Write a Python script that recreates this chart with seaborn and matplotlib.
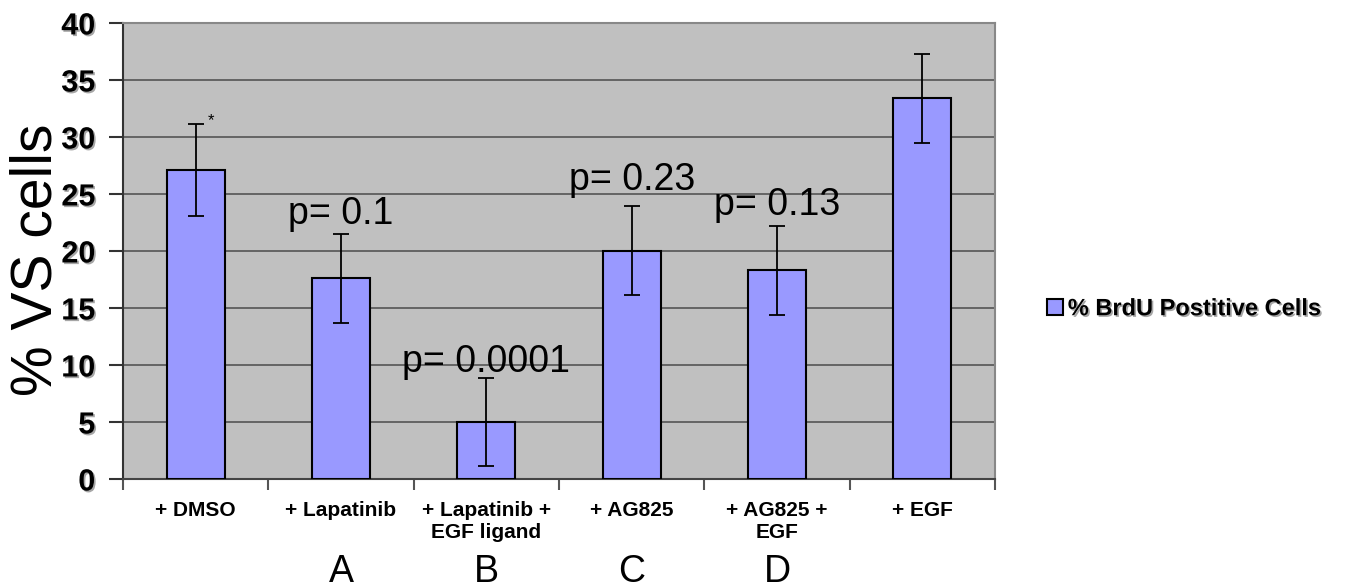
import matplotlib
matplotlib.use("Agg")
import matplotlib.pyplot as plt
import matplotlib.patheffects as pe
import seaborn as sns
import pandas as pd
import numpy as np

categories = ["+ DMSO", "+ Lapatinib", "+ Lapatinib +\nEGF ligand", "+ AG825", "+ AG825 +\nEGF", "+ EGF"]
values = [27.1, 17.6, 5.0, 20.0, 18.3, 33.4]
errors = [4.0, 3.9, 3.9, 3.9, 3.9, 3.9]
pvals = ["", "p= 0.1", "p= 0.0001", "p= 0.23", "p= 0.13", ""]
pval_y = [0, 23.2, 10.3, 26.2, 24.0, 0]
group_letters = ["", "A", "B", "C", "D", ""]
series_name = "% BrdU Postitive Cells"
yticks = [0, 5, 10, 15, 20, 25, 30, 35, 40]

sns.set_theme(style="white")
plt.rcParams['font.family'] = ['Liberation Sans', 'DejaVu Sans']
plt.rcParams.update({"text.color": "black", "axes.labelcolor": "black",
                     "xtick.color": "black", "ytick.color": "black"})

df = pd.DataFrame({"cat": categories, "val": values})

fig = plt.figure(figsize=(13.58, 5.88), dpi=100)
ax = fig.add_axes([0.0906, 0.1854, 0.6421, 0.7756])
ax.set_facecolor("#C0C0C0")

sns.barplot(data=df, x="cat", y="val", color="#9999FF", edgecolor="black",
            linewidth=1.5, width=0.4, saturation=1, label=series_name, ax=ax, zorder=3)
ax.errorbar(np.arange(len(values)), values, yerr=errors, fmt="none",
            ecolor="black", elinewidth=1.3, capsize=6, capthick=1.3, zorder=4)

ax.set_ylim(0, 40)
ax.set_xlim(-0.5, len(categories) - 0.5)
ax.set_yticks(yticks)
ax.yaxis.grid(True, color="#555555", linewidth=1.2, zorder=0)
ax.set_axisbelow(True)

shadow = [pe.withSimplePatchShadow(offset=(1.2, -1.2), shadow_rgbFace="gray", alpha=0.7)]
ax.set_yticklabels([str(t) for t in yticks], fontsize=22, fontweight="bold")
for lab in ax.get_yticklabels():
    lab.set_path_effects(shadow)
ax.tick_params(axis="y", direction="out", length=10, width=1.5, color="#333333", pad=10, left=True)

ax.set_xticks(np.arange(len(categories)))
ax.set_xticklabels(categories, fontsize=15, fontweight="bold", linespacing=1.2)
ax.tick_params(axis="x", length=0, pad=16)
ax.set_xticks(np.arange(len(categories) + 1) - 0.5, minor=True)
ax.tick_params(axis="x", which="minor", direction="out", length=8, width=1.5, color="#555555", bottom=True)

ax.set_xlabel("")
ax.set_ylabel("% VS cells", fontsize=41)
ax.yaxis.set_label_coords(-0.068, 0.48)

for s in ["top", "right"]:
    ax.spines[s].set_color("#888888")
    ax.spines[s].set_linewidth(1.5)
ax.spines["left"].set_color("#333333")
ax.spines["left"].set_linewidth(1.5)
ax.spines["bottom"].set_color("#444444")
ax.spines["bottom"].set_linewidth(1.5)

for i, (p, py) in enumerate(zip(pvals, pval_y)):
    if p:
        ax.text(i, py, p, ha="center", va="center", fontsize=27, zorder=5)
ax.text(0.08, values[0] + errors[0] + 0.3, "*", ha="left", va="center", fontsize=12, zorder=5)

for i, g in enumerate(group_letters):
    if g:
        ax.text(i, -0.205, g, transform=ax.get_xaxis_transform(), ha="center",
                va="center", fontsize=27)

leg = ax.legend(loc="center left", bbox_to_anchor=(0.755, 0.475), bbox_transform=fig.transFigure,
                frameon=False, fontsize=17, handlelength=0.7, handleheight=0.7, handletextpad=0.2)
for t in leg.get_texts():
    t.set_fontweight("bold")
    t.set_path_effects(shadow)

fig.savefig("out.png", dpi=100)
